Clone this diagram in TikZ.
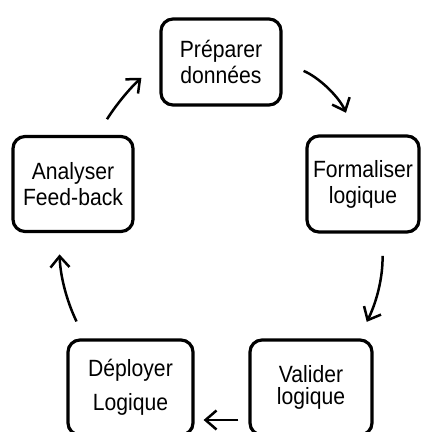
\documentclass[tikz,border=0pt]{standalone}
\usepackage{fontspec}
\setmainfont{Liberation Sans}[FakeStretch=0.9]
\usepackage{tikz}
\usetikzlibrary{arrows.meta}
\tikzstyle{arrow} = [line width=2.5pt,-{Straight Barb[length=11pt,width=19pt]}]

\begin{document}
\begin{tikzpicture}[x=1pt,y=1pt,
  box/.style = {draw,line width=3.2pt,rounded corners=12pt,fill=white,
        align=center,inner sep=0pt,minimum width=120pt,minimum height=86pt,
        font=\fontsize{23.5}{26}\selectfont}
]
 \useasboundingbox (0,0) rectangle (421,432);
 \node[box] (b1) at (221,370) {Préparer\\données};
 \node[box,minimum width=112pt,minimum height=96pt] (b2) at (363,248) {Formaliser\\logique};
 \node[box,minimum width=122pt,minimum height=95pt] (b3) at (311,44.5) {Valider\\[-4pt]logique};
 \node[box,minimum width=125pt,minimum height=95pt] (b4) at (130.5,44.5) {Déployer\\[8pt]Logique};
 \node[box,minimum height=95pt] (b5) at (73,248) {Analyser\\Feed-back};
 \begin{scope}[arrow]
 \draw[shorten <=18.6pt,shorten >=24pt] (b5.64) to[bend left=8] (b1.west);
 \draw[shorten <=22.8pt,shorten >=23.5pt] (b1.east) to[bend left=22] (b2.99);
 \draw[shorten <=22.4pt,shorten >=18.5pt] (b2.-69.5) to[bend left=14] (b3.46.7);
 \draw[shorten <=10pt,shorten >=9pt] ([yshift=-32.5pt]b3.west) -- ([yshift=-32.5pt]b4.east);
 \draw[shorten <=18.8pt,shorten >=21.3pt] (b4.133) to[bend left=12] (b5.254.8);
 \end{scope}
\end{tikzpicture}
\end{document}
